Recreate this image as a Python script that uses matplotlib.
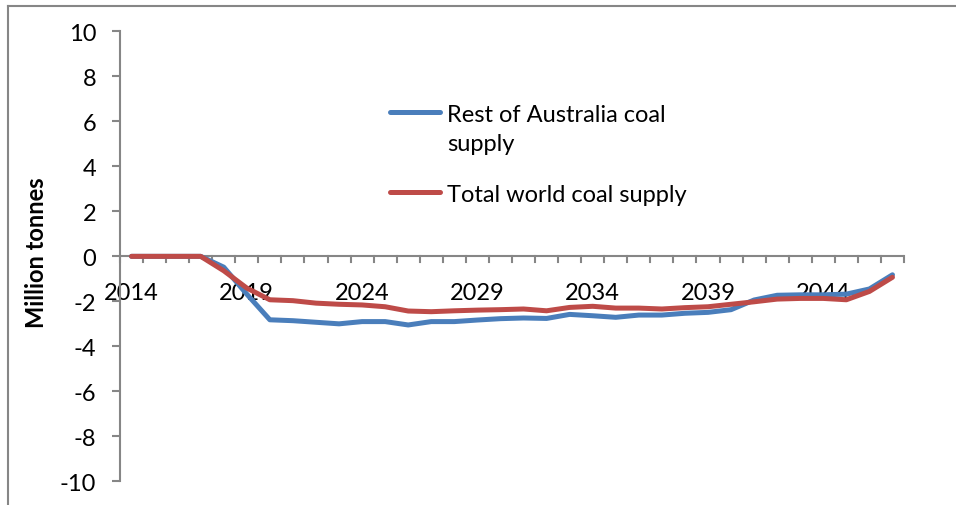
import matplotlib
matplotlib.use("Agg")
import matplotlib.pyplot as plt
from matplotlib.lines import Line2D
import numpy as np

plt.rcParams["font.family"] = ["Lato", "DejaVu Sans"]

years = list(range(2014, 2048))
rest_of_australia = [0, 0, 0, 0, -0.48, -1.68, -2.82, -2.86, -2.93, -3.0,
                     -2.9, -2.9, -3.05, -2.9, -2.9, -2.83, -2.77, -2.74, -2.76, -2.58,
                     -2.64, -2.71, -2.61, -2.61, -2.53, -2.49, -2.37, -1.94, -1.73, -1.71,
                     -1.71, -1.68, -1.45, -0.82]
total_world = [0, 0, 0, 0, -0.64, -1.41, -1.93, -1.97, -2.08, -2.13,
               -2.16, -2.24, -2.43, -2.46, -2.42, -2.39, -2.37, -2.34, -2.42, -2.27,
               -2.22, -2.30, -2.30, -2.34, -2.28, -2.24, -2.13, -2.02, -1.90, -1.87,
               -1.87, -1.93, -1.56, -0.93]
y_ticks = [10, 8, 6, 4, 2, 0, -2, -4, -6, -8, -10]
series_names = ["Rest of Australia coal\nsupply", "Total world coal supply"]

BLUE = "#4a7ebb"
RED = "#be4b48"
AXIS = "#868686"
FS = 17

fig = plt.figure(figsize=(9.56, 5.06), dpi=100)
ax = fig.add_axes([0.1255, 0.0468, 0.8201, 0.8892])

x = np.arange(len(years))
ax.plot(x, rest_of_australia, color=BLUE, lw=3.6, solid_capstyle="round", zorder=3)
ax.plot(x, total_world, color=RED, lw=3.6, solid_capstyle="round", zorder=4)

ax.set_xlim(-0.5, len(years) - 0.5)
ax.set_ylim(-10, 10)
ax.set_yticks(y_ticks)
ax.set_yticklabels([str(v) for v in y_ticks])

for s in ("top", "right", "bottom"):
    ax.spines[s].set_visible(False)
ax.spines["left"].set_color(AXIS)
ax.spines["left"].set_linewidth(1.5)
ax.tick_params(axis="y", direction="out", length=6, width=1.5, color=AXIS,
               labelsize=FS, pad=11)

# category axis crossing at zero, ticks between categories
ax.axhline(0, color=AXIS, lw=1.5, zorder=1)
ax.set_xticks([])
for b in np.arange(-0.5, len(years), 1.0):
    ax.plot([b, b], [0, -0.27], color=AXIS, lw=1.5, zorder=1, clip_on=False)
for i, yr in enumerate(years):
    if (yr - 2014) % 5 == 0:
        ax.text(i, -1.6, str(yr), ha="center", va="center", fontsize=FS, zorder=2)

ax.text(37 / 956, 0.5, "Million tonnes", transform=fig.transFigure, rotation=90,
        ha="center", va="center", fontsize=FS, fontweight="bold")

# legend, Excel style: handle aligned with first line of label
for name, color, ypx in zip(series_names, [BLUE, RED], [113, 193]):
    yf = 1 - ypx / 506
    fig.add_artist(Line2D([390 / 956, 440 / 956], [yf, yf], color=color, lw=3.6,
                          solid_capstyle="round"))
    fig.text(447 / 956, yf + 0.015, name, ha="left", va="top", fontsize=FS,
             linespacing=1.45)

# outer chart border
fig.add_artist(Line2D([8 / 956, 8 / 956], [0, 1 - 6.5 / 506], color=AXIS, lw=1.5))
fig.add_artist(Line2D([8 / 956, 1], [1 - 6.5 / 506, 1 - 6.5 / 506], color=AXIS, lw=1.5))

fig.savefig("out.png", dpi=100)
